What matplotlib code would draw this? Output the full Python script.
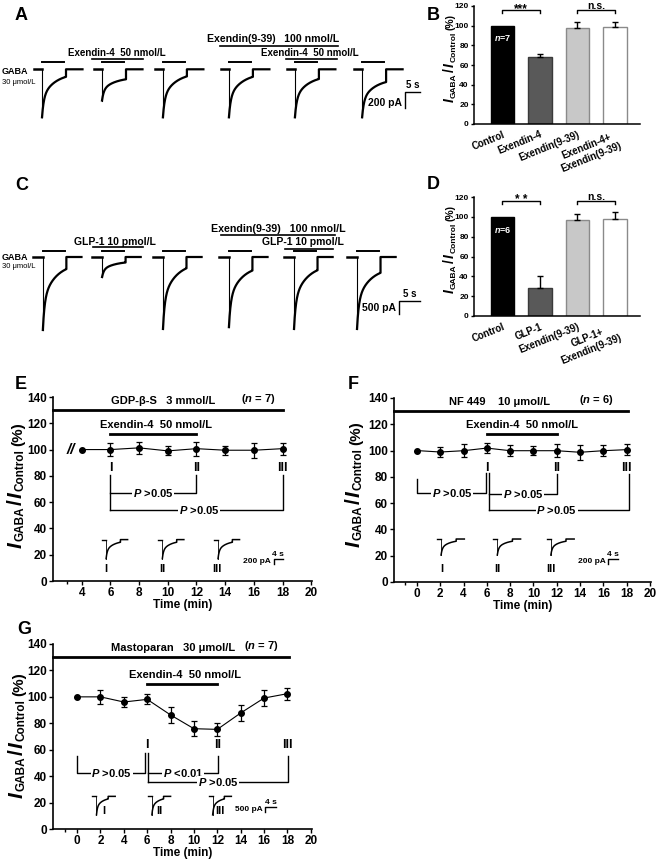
import matplotlib
matplotlib.use('Agg')
import matplotlib.pyplot as plt
import numpy as np

plt.rcParams['font.family'] = ['Liberation Sans', 'DejaVu Sans']
plt.rcParams['font.weight'] = 'bold'
plt.rcParams['axes.labelweight'] = 'bold'
plt.rcParams['mathtext.fontset'] = 'custom'
plt.rcParams['mathtext.it'] = 'Liberation Sans:italic:bold'
plt.rcParams['mathtext.rm'] = 'Liberation Sans:bold'
plt.rcParams['mathtext.bf'] = 'Liberation Sans:bold'

# ---- panel A: GABA currents (s, pA) ----
a_onsets = [14.0, 34.0, 54.3, 76.3, 98.3, 120.7]
a_peaks = [600, 390, 600, 600, 600, 600]
a_resid = [0.07, 0.25, 0.06, 0.07, 0.12, 0.19]
a_drug_start = [30.7, 73.3, 95.3]
a_drug_end = [47.7, 112.7, 112.3]
a_drug_level = [125, 290, 125]
a_drug_text = ['Exendin-4  50 nmol/L', 'Exendin(9-39)   100 nmol/L', 'Exendin-4  50 nmol/L']
a_drug_text_x = [39.0, 91.0, 103.3]
a_drug_text_y = [166, 345, 166]

# ---- panel C ----
c_onsets = [10.2, 24.3, 38.8, 54.5, 70.0, 85.0]
c_peaks = [2810, 770, 2770, 2700, 2770, 2770]
c_resid = [0.08, 0.2, 0.07, 0.11, 0.1, 0.14]
c_drug_start = [22.1, 52.6, 67.9]
c_drug_end = [34.0, 79.8, 79.3]
c_drug_level = [373, 847, 296]
c_drug_text = ['GLP-1 10 pmol/L', 'Exendin(9-39)   100 nmol/L', 'GLP-1 10 pmol/L']
c_drug_text_x = [27.4, 66.3, 72.2]
c_drug_text_y = [450, 975, 462]

# ---- panels B, D ----
b_labels = ['Control', 'Exendin-4', 'Exendin(9-39)', 'Exendin-4+\nExendin(9-39)']
b_means = [100, 68.5, 98, 99]
b_errs = [0, 2.7, 5.5, 4.7]
d_labels = ['Control', 'GLP-1', 'Exendin(9-39)', 'GLP-1+\nExendin(9-39)']
d_means = [100, 28, 96.5, 98]
d_errs = [0, 12, 6.3, 7]
bar_colors = ['black', '#595959', '#c8c8c8', 'white']
bar_edges = ['black', '#3a3a3a', '#8a8a8a', '#8a8a8a']

# ---- panels E, F, G (min, %) ----
e_time = [4, 6, 8, 10, 12, 14, 16, 18]
e_mean = [100, 100, 101.3, 99, 100.7, 99.5, 99.5, 100.7]
e_err = [0, 4.9, 4.7, 3.5, 5.3, 3.5, 5.7, 4.6]
f_time = [0, 2, 4, 6, 8, 10, 12, 14, 16, 18]
f_mean = [100, 98.9, 99.9, 101.9, 99.9, 99.9, 99.9, 98.7, 99.9, 100.7]
f_err = [0, 3.8, 4.9, 3.8, 4.4, 3.2, 4.9, 5.7, 4.1, 4.0]
g_time = [0, 2, 4, 6, 8, 10, 12, 14, 16, 18]
g_mean = [100, 100, 96.1, 98.1, 86.3, 75.9, 75.4, 87.8, 99.1, 102.4]
g_err = [0, 5.3, 3.7, 3.8, 6.3, 5.7, 5.0, 6.3, 5.8, 4.4]
epochs = [6, 12, 18]
epoch_names = ['I', 'II', 'III']

W, H = 658, 859
fig = plt.figure(figsize=(W / 100, H / 100), dpi=100)


def px_axes(left, top, right, bottom):
    return fig.add_axes([left / W, 1 - bottom / H, (right - left) / W, (bottom - top) / H])


def fig_text(x, y, s, **kw):
    return fig.text(x / W, 1 - y / H, s, **kw)


def gaba_trace(onset, dur, peak, resid, lead, tail):
    t_on = np.linspace(0, dur, 300)
    k = t_on * 8 / dur
    f = resid + (1 - resid) * (0.45 * np.exp(-k / 0.6) + 0.55 * np.exp(-k / 4.5))
    t = np.concatenate([[onset - lead, onset], onset + t_on, [onset + dur, onset + dur + tail]])
    y = np.concatenate([[0, 0], -peak * f, [0, 0]])
    return t, y


def stacked_ylabel(x, yc, pieces):
    r = fig.canvas.get_renderer()
    made = []
    for s, size, style, dx, gap in pieces:
        t = fig.text(0, 0, s, fontsize=size, fontstyle=style, fontweight='bold',
                     rotation=90, rotation_mode='anchor', ha='left', va='baseline')
        made.append((t, t.get_window_extent(r).height, dx, gap))
    total = sum(h + g for _, h, _, g in made)
    y = yc + total / 2
    for t, h, dx, g in made:
        t.set_position(((x + dx) / W, 1 - y / H))
        y -= h + g


def label_pieces(big, small, pct, gap):
    return [('I', big, 'italic', 0, gap), ('GABA', small, 'normal', 1.2, gap),
            ('/', big, 'normal', 0, gap), ('I', big, 'italic', 0, gap),
            ('Control', small, 'normal', 1.2, gap * 2.5), ('(%)', pct, 'normal', 0, 0)]


# ---------- trace panels ----------
def trace_panel(rect, xlim, ylim, onsets, peaks, resid, dur, lead, tail, gaba_level,
                d_start, d_end, d_level, d_text, d_tx, d_ty, d_size):
    ax = px_axes(*rect)
    ax.set_xlim(xlim)
    ax.set_ylim(ylim)
    ax.axis('off')
    for on, pk, rs in zip(onsets, peaks, resid):
        t, y = gaba_trace(on, dur, pk, rs, lead, tail)
        ax.plot(t[:2], y[:2], color='black', lw=1.8)
        ax.plot(t[1:3], y[1:3], color='black', lw=0.8)
        ax.plot(t[2:], y[2:], color='black', lw=1.6)
        ax.plot([on + 0.1, on + dur * 0.93], [gaba_level] * 2, color='black', lw=1.4)
    for s, e, lv, txt, tx, ty, fs in zip(d_start, d_end, d_level, d_text, d_tx, d_ty, d_size):
        ax.plot([s, e], [lv, lv], color='black', lw=1.2)
        ax.text(tx, ty, txt, ha='center', va='baseline', fontsize=fs)
    return ax


ax_a = trace_panel((0, 30, 422, 125), (0, 422 / 3), (-696, 491), a_onsets, a_peaks, a_resid,
                   8.0, 2.6, 5.5, 95, a_drug_start, a_drug_end, a_drug_level,
                   a_drug_text, a_drug_text_x, a_drug_text_y, [7, 7.6, 7])
ax_a.plot([140, 135, 135], [-284, -284, -484], color='black', lw=1)
ax_a.text(137.5, -264, '5 s', ha='center', va='bottom', fontsize=7)
ax_a.text(134, -420, '200 pA', ha='right', va='center', fontsize=7.5)

ax_c = trace_panel((0, 195, 422, 335), (0, 422 / 4.2), (-3003, 2387), c_onsets, c_peaks, c_resid,
                   5.6, 2.4, 3.6, 231, c_drug_start, c_drug_end, c_drug_level,
                   c_drug_text, c_drug_text_x, c_drug_text_y, [7.5, 7.7, 7.5])
ax_c.plot([100, 95, 95], [-1694, -1694, -2194], color='black', lw=1)
ax_c.text(97.5, -1620, '5 s', ha='center', va='bottom', fontsize=7)
ax_c.text(94.2, -1963, '500 pA', ha='right', va='center', fontsize=7.5)

for ytop in (70, 255):
    fig_text(2, ytop + 2, 'GABA', fontsize=6.5, va='center')
    fig_text(2, ytop + 12, '30 μmol/L', fontsize=5.5, va='center', fontweight='normal')


# ---------- bar panels ----------
def bar_panel(rect, labels, means, errs, n_text, star_text):
    ax = px_axes(*rect)
    x = np.arange(len(means))
    ax.bar(x, means, width=0.62, color=bar_colors, edgecolor=bar_edges, linewidth=1)
    ax.errorbar(x[1:], means[1:], yerr=[np.zeros(len(x) - 1), errs[1:]], fmt='none',
                ecolor='black', elinewidth=1, capsize=2.5, capthick=1)
    ax.set_xlim(-0.76, 3.67)
    ax.set_ylim(0, 120)
    ax.set_yticks(np.arange(0, 121, 20))
    ax.set_xticks(x)
    ax.set_xticklabels(labels, rotation=22, ha='right', rotation_mode='anchor',
                       fontsize=7, multialignment='center')
    ax.tick_params(axis='y', labelsize=6, length=2.5, width=1, pad=1.2)
    ax.tick_params(axis='x', length=0, pad=4)
    for side in ('top', 'right'):
        ax.spines[side].set_visible(False)
    for side in ('left', 'bottom'):
        ax.spines[side].set_linewidth(1.1)
    ax.text(0, 87, n_text, color='white', ha='center', va='center', fontsize=6.5)
    for (x0, x1), txt, fs, ty in zip([(0, 1), (2, 3)], [star_text, 'n.s.'], [8.5, 7.5], [113.5, 116.5]):
        ax.plot([x0, x0, x1, x1], [113, 115.5, 115.5, 113], color='black', lw=1, clip_on=False)
        ax.text((x0 + x1) / 2, ty, txt, ha='center', va='baseline', fontsize=fs)
    return ax


bar_panel((474, 6, 640, 124), b_labels, b_means, b_errs, r'$n$=7', '***')
bar_panel((474, 197, 640, 316), d_labels, d_means, d_errs, r'$n$=6', '* *')
stacked_ylabel(454, 58, label_pieces(10, 6, 7.5, 1.0))
stacked_ylabel(454, 249, label_pieces(10, 6, 7.5, 1.0))


# ---------- time-course panels ----------
def time_panel(rect, xlim, time, mean, err, first_tick, minor):
    ax = px_axes(*rect)
    ax.set_xlim(xlim)
    ax.set_ylim(0, 140)
    ax.set_yticks(np.arange(0, 141, 20))
    ax.set_xticks(np.arange(first_tick, 21, 2))
    ax.set_xticks([minor], minor=True)
    ax.tick_params(labelsize=8.5, length=3, width=1, pad=1.5)
    ax.tick_params(which='minor', length=2.5, width=1)
    for side in ('top', 'right'):
        ax.spines[side].set_visible(False)
    for side in ('left', 'bottom'):
        ax.spines[side].set_linewidth(1.2)
    ax.set_xlabel('Time (min)', fontsize=8.5, labelpad=0)
    ax.errorbar(time, mean, yerr=err, fmt='-o', color='black', ms=4, lw=0.8,
                elinewidth=0.9, capsize=2, capthick=0.9)
    return ax


def drug_bars(ax, main_text, n_text, main_x, n_x, main_end, exe_y, exe_tx):
    ax.plot([ax.get_xlim()[0], main_end], [130, 130], color='black', lw=2, clip_on=False)
    ax.text(main_x, 133, main_text, ha='center', va='bottom', fontsize=8)
    ax.text(n_x, 133, n_text, ha='center', va='bottom', fontsize=8)
    ax.plot([epochs[0], epochs[1]], [exe_y, exe_y], color='black', lw=2)
    ax.text(exe_tx, exe_y + 3, 'Exendin-4  50 nmol/L', ha='center', va='bottom', fontsize=8)


def p_text(ax, x, y, s):
    ax.text(x, y, s, ha='center', va='center', fontsize=8,
            bbox=dict(facecolor='white', edgecolor='none', pad=0.6))


def line(ax, xs, ys):
    ax.plot(xs, ys, color='black', lw=1)


def mini_traces(ax, drops, base, depth, lead, dur, tail, lab_x, lab_y,
                sb_x, sb_y, sb_w, sb_h, sb_text):
    for d in drops:
        t, y = gaba_trace(d, dur, depth, 0.05, lead, tail)
        ax.plot(t[:2], y[:2] + base, color='black', lw=1)
        ax.plot(t[1:3], y[1:3] + base, color='black', lw=0.6)
        ax.plot(t[2:], y[2:] + base, color='black', lw=1.1)
    for lx, name in zip(lab_x, epoch_names):
        ax.text(lx, lab_y, name, ha='center', va='center', fontsize=8)
    line(ax, [sb_x + sb_w, sb_x, sb_x], [sb_y, sb_y, sb_y - sb_h])
    ax.text(sb_x + sb_w / 2, sb_y + 0.8, '4 s', ha='center', va='bottom', fontsize=6)
    ax.text(sb_x - 0.2, sb_y - sb_h * 0.5, sb_text, ha='right', va='center', fontsize=6)


# E
ax_e = time_panel((53, 397, 312, 581), (2, 20.05), e_time, e_mean, e_err, 4, 3)
drug_bars(ax_e, 'GDP-β-S   3 mmol/L', r'($n$ = 7)', 9.7, 16.3, 18.0, 112, 9.2)
ax_e.text(3.25, 100, '//', ha='center', va='center', fontsize=11, fontstyle='italic')
for ep, name in zip(epochs, epoch_names):
    ax_e.text(ep, 86, name, ha='center', va='center', fontsize=9)
line(ax_e, [6, 6], [81, 54.4])
line(ax_e, [6, 12, 12], [66.6, 66.6, 81])
p_text(ax_e, 9.0, 66.6, r'$P$ >0.05')
line(ax_e, [6, 18, 18], [54.4, 54.4, 81])
p_text(ax_e, 12.2, 54.4, r'$P$ >0.05')
mini_traces(ax_e, [5.7, 9.62, 13.5], 31.5, 14.5, 0.3, 1.0, 0.5, [5.7, 9.62, 13.45], 8.9,
            17.4, 16.6, 0.6, 3.6, '200 pA')
stacked_ylabel(22, 485, label_pieces(15, 8.5, 11, 1.3))

# F
ax_f = time_panel((394, 398, 651, 582), (-1.97, 20.1), f_time, f_mean, f_err, 0, -1)
drug_bars(ax_f, 'NF 449    10 μmol/L', r'($n$ = 6)', 7.1, 15.4, 18.1, 112.6, 9.0)
for ep, name in zip(epochs, epoch_names):
    ax_f.text(ep, 87, name, ha='center', va='center', fontsize=9)
line(ax_f, [0, 0, 5.94, 5.94], [78, 67.7, 67.7, 83])
p_text(ax_f, 3.0, 67.7, r'$P$ >0.05')
line(ax_f, [6.23, 6.23], [83, 55])
line(ax_f, [6.23, 12.05, 12.05], [67.2, 67.2, 82])
p_text(ax_f, 9.1, 67.2, r'$P$ >0.05')
line(ax_f, [6.23, 18.2, 18.2], [55, 55, 82])
p_text(ax_f, 12.0, 55, r'$P$ >0.05')
mini_traces(ax_f, [2.07, 6.9, 11.5], 32.7, 12.2, 0.35, 1.3, 0.7, [2.15, 6.9, 11.5], 9.9,
            16.4, 17.5, 0.85, 3.8, '200 pA')
stacked_ylabel(360, 484, label_pieces(15, 8.5, 11, 1.3))

# G
ax_g = time_panel((53, 644, 312, 829), (-2.06, 20.1), g_time, g_mean, g_err, 0, -1)
drug_bars(ax_g, 'Mastoparan   30 μmol/L', r'($n$ = 7)', 8.25, 15.8, 18.1, 110, 9.25)
for ep, name in zip(epochs, epoch_names):
    ax_g.text(ep, 63.3, name, ha='center', va='center', fontsize=9)
line(ax_g, [0, 0, 5.8, 5.8], [55, 42.4, 42.4, 57.5])
p_text(ax_g, 2.95, 42.4, r'$P$ >0.05')
line(ax_g, [6.1, 6.1], [57.5, 35.3])
line(ax_g, [6.1, 12.1, 12.1], [42.4, 42.4, 55])
p_text(ax_g, 9.1, 42.4, r'$P$ <0.01')
line(ax_g, [6.1, 18.05, 18.05], [35.3, 35.3, 55])
p_text(ax_g, 12.1, 35.3, r'$P$ >0.05')
mini_traces(ax_g, [1.66, 6.4, 11.6], 24.7, 14, 0.35, 1.0, 0.6, [2.3, 7.0, 12.2], 13.4,
            16.1, 16.9, 0.9, 4.0, '500 pA')
stacked_ylabel(23, 735, label_pieces(15, 8.5, 11, 1.3))

# panel letters
for letter, (lx, ly) in zip('ABCDEFG', [(15, 7), (427, 7), (15, 177), (427, 176),
                                        (15, 376), (348, 376), (17, 621)]):
    fig_text(lx, ly, letter, fontsize=13, va='top')

fig.savefig('out.png', dpi=100)
